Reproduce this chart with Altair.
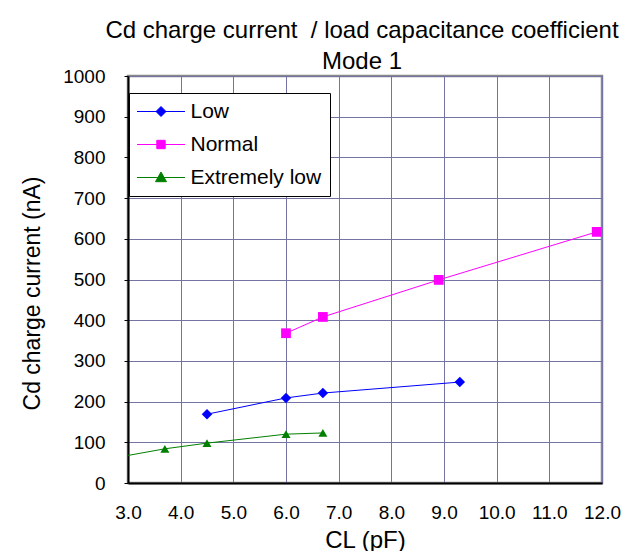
import altair as alt
import pandas as pd

# ---- data ----
series = ["Low", "Normal", "Extremely low"]
colors = ["#0000FF", "#FF00FF", "#008000"]
shapes = ["diamond", "square", "triangle-up"]
marker_sizes = [110, 81, 110]
# legend glyphs: a line segment with the series marker on it
legend_glyphs = [
    "M-2.4,0L2.4,0M0,-0.5L0.5,0L0,0.5L-0.5,0Z",
    "M-2.4,0L2.4,0M-0.42,-0.42L0.42,-0.42L0.42,0.42L-0.42,0.42Z",
    "M-2.4,0L2.4,0M0,-0.55L0.55,0.42L-0.55,0.42Z",
]

low_x = [4.5, 6.0, 6.7, 9.3]
low_y = [169, 209, 221, 248]
normal_x = [6.0, 6.7, 8.9, 11.9]
normal_y = [368, 408, 499, 617]
ext_x = [2.5, 3.7, 4.5, 6.0, 6.7]
ext_y = [56, 84, 98, 120, 123]

x_ticks = [3.0, 4.0, 5.0, 6.0, 7.0, 8.0, 9.0, 10.0, 11.0, 12.0]
y_ticks = [0, 100, 200, 300, 400, 500, 600, 700, 800, 900, 1000]

title_lines = ["Cd charge current\u00a0 / load capacitance coefficient", "Mode 1"]
x_title = "CL (pF)"
y_title = "Cd charge current (nA)"

rows = []
for name, xs, ys in [("Low", low_x, low_y), ("Normal", normal_x, normal_y),
                     ("Extremely low", ext_x, ext_y)]:
    for i, (xv, yv) in enumerate(zip(xs, ys)):
        rows.append({"series": name, "CL": xv, "I": yv, "order": i})
df = pd.DataFrame(rows)
legend_df = pd.DataFrame({"series": series})

FONT = "Liberation Sans"

legend = alt.Legend(
    title=None, orient="none", legendX=1, legendY=17,
    fillColor="white", strokeColor="black", padding=8, cornerRadius=0,
    symbolSize=400, symbolStrokeWidth=1, symbolOffset=13.5, labelOffset=19,
    rowPadding=11, labelFont=FONT, labelFontSize=21, labelColor="black",
    labelLimit=0, symbolOpacity=1,
)

color_scale = alt.Scale(domain=series, range=colors)

x_enc = alt.X("CL:Q", scale=alt.Scale(domain=[3, 12], nice=False, zero=False),
              axis=alt.Axis(values=x_ticks, format=".1f", ticks=False, tickSize=0,
                            labelPadding=20, title=x_title, titlePadding=6,
                            labelFlush=False))
y_enc = alt.Y("I:Q", scale=alt.Scale(domain=[0, 1000], nice=False),
              axis=alt.Axis(values=y_ticks, format="d", tickSize=4, tickColor="black",
                            labelPadding=19, title=y_title, titlePadding=18,
                            titleY=217, titleFontSize=23))

lines = alt.Chart(df).mark_line(strokeWidth=1, clip=True).encode(
    x=x_enc, y=y_enc,
    color=alt.Color("series:N", scale=color_scale, legend=None),
    order="order:Q")

points = alt.Chart(df).mark_point(filled=True, opacity=1, clip=True).encode(
    x=x_enc, y=y_enc,
    color=alt.Color("series:N", scale=color_scale, legend=None),
    shape=alt.Shape("series:N", scale=alt.Scale(domain=series, range=shapes), legend=None),
    size=alt.Size("series:N", scale=alt.Scale(domain=series, range=marker_sizes), legend=None),
)

legend_layer = alt.Chart(legend_df).mark_point(filled=True, clip=True).encode(
    x=alt.value(-500), y=alt.value(-500),
    color=alt.Color("series:N", scale=color_scale, legend=legend),
    stroke=alt.Stroke("series:N", scale=color_scale, legend=legend),
    shape=alt.Shape("series:N", scale=alt.Scale(domain=series, range=legend_glyphs), legend=legend),
)

chart = alt.layer(lines, points, legend_layer).resolve_scale(
    color="independent", shape="independent", stroke="independent", size="independent"
).properties(
    width=474, height=407,
    title=alt.TitleParams(text=title_lines, font=FONT, fontSize=24, fontWeight="normal",
                          color="black", anchor="middle", dx=-3, dy=7, offset=0,
                          lineHeight=31),
    autosize=alt.AutoSizeParams(type="none"),
    padding={"left": 120, "top": 68, "right": 26, "bottom": 70},
    background="white",
).configure_view(
    stroke="#888888", strokeWidth=2.5
).configure_axis(
    grid=True, gridColor="#7474a4", gridWidth=1, gridOpacity=1,
    domainColor="black", domainWidth=2,
    labelFont=FONT, labelFontSize=19, labelColor="black",
    titleFont=FONT, titleFontSize=24, titleFontWeight="normal", titleColor="black",
)

chart.save("out.html", embed_options={"renderer": "svg", "actions": False})
